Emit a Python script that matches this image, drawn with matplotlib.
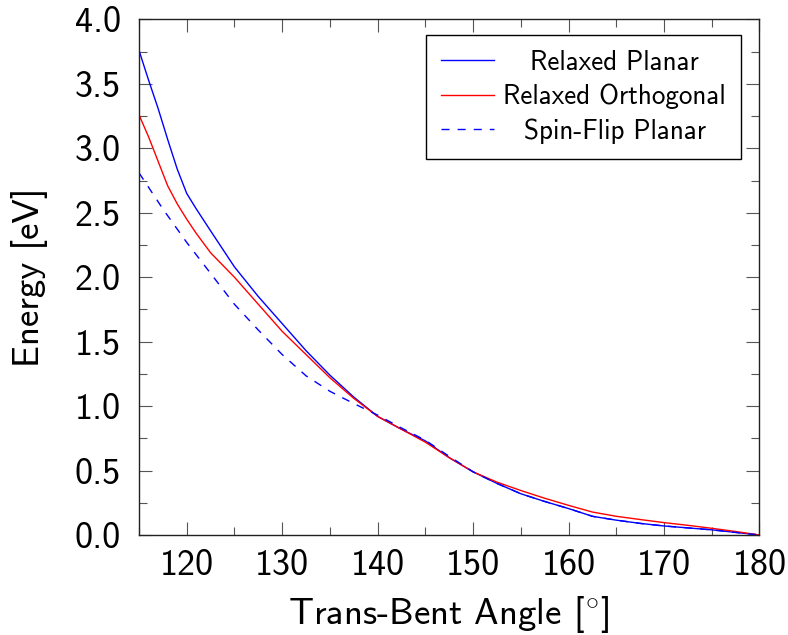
import matplotlib
matplotlib.use("Agg")
import matplotlib.pyplot as plt
from matplotlib.ticker import MultipleLocator, FormatStrFormatter
from matplotlib.transforms import Affine2D

# ---- data ----
angle_planar = [115, 116, 117, 118, 119, 120, 121, 122.5, 125, 127.5, 130, 132.5, 135, 137.5,
                140, 142.5, 145, 147.5, 150, 152.5, 155, 157.5, 160, 162.5, 165, 167.5, 170,
                172.5, 175, 177.5, 180]
energy_planar = [3.76, 3.53, 3.31, 3.07, 2.84, 2.65, 2.53, 2.36, 2.08, 1.85, 1.64, 1.43, 1.24, 1.07,
                 0.92, 0.82, 0.73, 0.60, 0.49, 0.40, 0.32, 0.26, 0.205, 0.145, 0.115, 0.09, 0.07,
                 0.055, 0.04, 0.02, 0.0]

angle_orth = [115, 116, 117, 118, 119, 120, 121, 122.5, 125, 127.5, 130, 132.5, 135, 137.5,
              140, 142.5, 145, 147.5, 150, 152.5, 155, 157.5, 160, 162.5, 165, 167.5, 170,
              172.5, 175, 177.5, 180]
energy_orth = [3.26, 3.09, 2.90, 2.71, 2.57, 2.45, 2.34, 2.19, 2.00, 1.79, 1.58, 1.40, 1.22, 1.06,
               0.92, 0.82, 0.72, 0.60, 0.49, 0.41, 0.345, 0.285, 0.23, 0.178, 0.145, 0.12, 0.096,
               0.075, 0.052, 0.027, 0.0]

angle_sf = [115, 117.5, 120, 122.5, 125, 127.5, 130, 132.5, 135, 137.5, 140, 142.5, 145, 147.5,
            150, 152.5, 155, 157.5, 160, 162.5, 165, 167.5, 170, 172.5, 175, 177.5, 180]
energy_sf = [2.81, 2.53, 2.27, 2.03, 1.79, 1.59, 1.40, 1.235, 1.115, 1.02, 0.93, 0.83, 0.735, 0.61,
             0.49, 0.40, 0.32, 0.26, 0.205, 0.145, 0.115, 0.09, 0.07, 0.055, 0.04, 0.02, 0.0]

labels = ["Relaxed Planar", "Relaxed Orthogonal", "Spin-Flip Planar"]
x_ticks = [120, 130, 140, 150, 160, 170, 180]

# ---- style ----
plt.rcParams['font.family'] = ['cmss10', 'DejaVu Sans']
plt.rcParams['mathtext.fontset'] = 'cm'
plt.rcParams['axes.unicode_minus'] = False

fig = plt.figure(figsize=(7.88, 6.35), dpi=100)
ax = fig.add_axes([0.1764, 0.1575, 0.7874, 0.8118])

lw = 1.0
ax.plot(angle_planar, energy_planar, color='#0000ff', lw=lw, label=labels[0])
ax.plot(angle_orth, energy_orth, color='#ff0000', lw=lw, label=labels[1])
ax.plot(angle_sf, energy_sf, color='#0000ff', lw=lw, linestyle=(0, (5.8, 5.8)), label=labels[2])

ax.set_xlim(115, 180)
ax.set_ylim(0, 4.0)
ax.set_xticks(x_ticks)
ax.xaxis.set_minor_locator(MultipleLocator(5))
ax.yaxis.set_major_locator(MultipleLocator(0.5))
ax.yaxis.set_minor_locator(MultipleLocator(0.25))
ax.yaxis.set_major_formatter(FormatStrFormatter('%.1f'))

ax.tick_params(which='both', direction='in', top=True, right=True, color='#555555', width=0.8)
ax.tick_params(which='major', length=9.5)
ax.tick_params(which='minor', length=5.8)
ax.tick_params(axis='x', which='major', labelsize=26, pad=10)
ax.tick_params(axis='y', which='major', labelsize=26, pad=13)
for s in ax.spines.values():
    s.set_linewidth(1.0)
    s.set_color('#222222')

ax.set_xlabel(r"Trans-Bent Angle [$^{\circ}$]", fontsize=26.5, labelpad=9)
ax.set_ylabel("Energy [eV]", fontsize=26.5, labelpad=19)

leg = ax.legend(loc='upper right', bbox_to_anchor=(0.970, 0.970), fontsize=19.5,
                frameon=True, fancybox=False, edgecolor='black', framealpha=1,
                handlelength=1.95, handletextpad=0.35, labelspacing=0.33,
                borderpad=0.55, borderaxespad=0.0)
leg.get_frame().set_linewidth(1.0)

# center legend texts within their column (like pgfplots)
fig.canvas.draw()
r = fig.canvas.get_renderer()
texts = leg.get_texts()
widths = [t.get_window_extent(r).width for t in texts]
wmax = max(widths)
for t, w in zip(texts, widths):
    dx = (wmax - w) / 2.0
    t.set_transform(t.get_transform() + Affine2D().translate(dx, 0))

fig.savefig("out.png", dpi=100)
